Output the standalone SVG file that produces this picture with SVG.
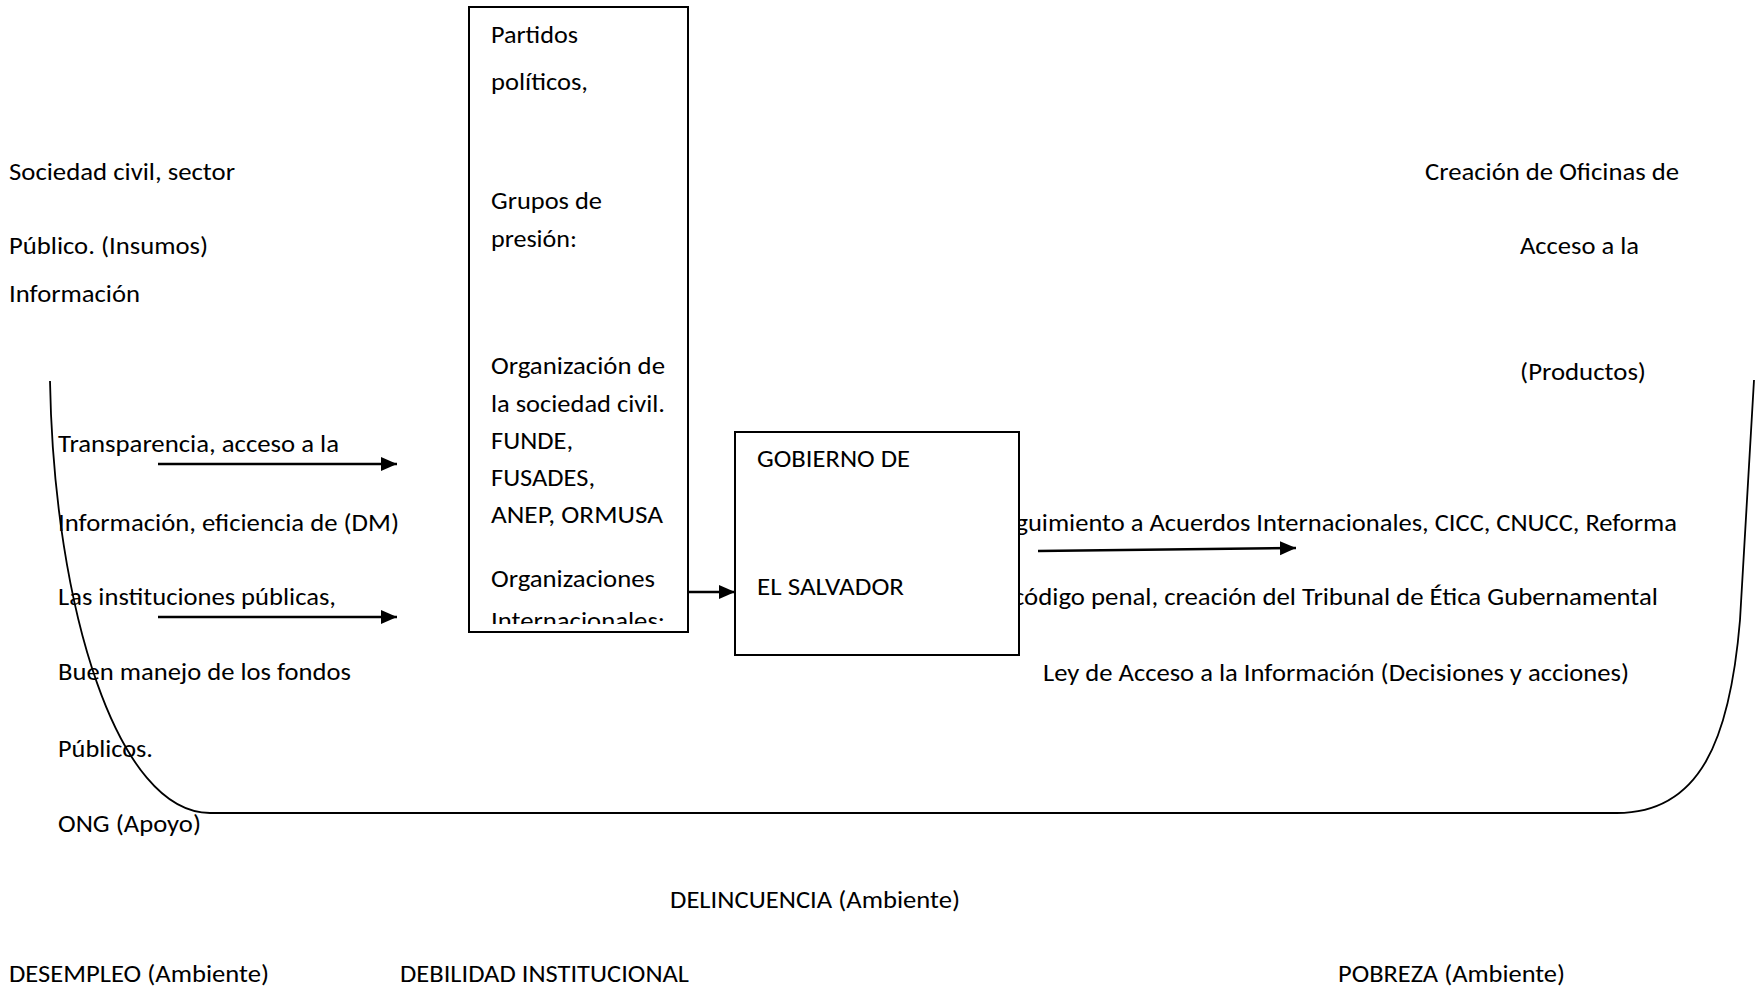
<svg xmlns="http://www.w3.org/2000/svg" width="1760" height="990" viewBox="0 0 1760 990">
<style>
text{font-family:Carlito,Lato,"Open Sans",sans-serif;font-size:25px;fill:#000}
.box{fill:#fff;stroke:#000;stroke-width:2}
.conn{stroke:#000;stroke-width:2.5;fill:none}
.curve{stroke:#000;stroke-width:1.8;fill:none}
</style>
<defs>
<marker id="ah" markerUnits="userSpaceOnUse" markerWidth="18" markerHeight="16" refX="16" refY="7" orient="auto">
<path d="M0,0 L16,7 L0,14 z" fill="#000"/>
</marker>
<clipPath id="clipBox"><rect x="470" y="8" width="217" height="616"/></clipPath>
</defs>

<g id="inputs">
<text x="9" y="180" textLength="226" lengthAdjust="spacingAndGlyphs">Sociedad civil, sector</text>
<text x="9" y="254" textLength="199" lengthAdjust="spacingAndGlyphs">Público. (Insumos)</text>
<text x="9" y="302" textLength="131" lengthAdjust="spacingAndGlyphs">Información</text>
<text x="58" y="452" textLength="281" lengthAdjust="spacingAndGlyphs">Transparencia, acceso a la</text>
<text x="58" y="531" textLength="341" lengthAdjust="spacingAndGlyphs">Información, eficiencia de (DM)</text>
<text x="58" y="605" textLength="278" lengthAdjust="spacingAndGlyphs">Las instituciones públicas,</text>
<text x="58" y="680" textLength="293" lengthAdjust="spacingAndGlyphs">Buen manejo de los fondos</text>
<text x="58" y="757" textLength="95" lengthAdjust="spacingAndGlyphs">Públicos.</text>
<text x="58" y="832" textLength="143" lengthAdjust="spacingAndGlyphs">ONG (Apoyo)</text>
</g>

<g id="outputs">
<text x="1425" y="180" textLength="254" lengthAdjust="spacingAndGlyphs">Creación de Oficinas de</text>
<text x="1520" y="254" textLength="119" lengthAdjust="spacingAndGlyphs">Acceso a la</text>
<text x="1520" y="380" textLength="126" lengthAdjust="spacingAndGlyphs">(Productos)</text>
<text x="990" y="531" textLength="687" lengthAdjust="spacingAndGlyphs">Seguimiento a Acuerdos Internacionales, CICC, CNUCC, Reforma</text>
<text x="1013" y="605" textLength="645" lengthAdjust="spacingAndGlyphs">código penal, creación del Tribunal de Ética Gubernamental</text>
<text x="1043" y="681" textLength="586" lengthAdjust="spacingAndGlyphs">Ley de Acceso a la Información (Decisiones y acciones)</text>
</g>

<g id="environment">
<text x="670" y="908" textLength="290" lengthAdjust="spacingAndGlyphs">DELINCUENCIA (Ambiente)</text>
<text x="9" y="982" textLength="260" lengthAdjust="spacingAndGlyphs">DESEMPLEO (Ambiente)</text>
<text x="400" y="982" textLength="289" lengthAdjust="spacingAndGlyphs">DEBILIDAD INSTITUCIONAL</text>
<text x="1338" y="982" textLength="227" lengthAdjust="spacingAndGlyphs">POBREZA (Ambiente)</text>
</g>

<g id="system-boundary">
<path class="curve" d="M50,381 C54,610 118,813 210,813 L1617,813 C1700,813 1730,740 1740,620 L1754,380"/>
</g>

<g id="actors">
<rect class="box" x="469" y="7" width="219" height="625"/>
<g clip-path="url(#clipBox)">
<text x="491" y="43" textLength="87" lengthAdjust="spacingAndGlyphs">Partidos</text>
<text x="491" y="90" textLength="97" lengthAdjust="spacingAndGlyphs">políticos,</text>
<text x="491" y="209" textLength="111" lengthAdjust="spacingAndGlyphs">Grupos de</text>
<text x="491" y="247" textLength="86" lengthAdjust="spacingAndGlyphs">presión:</text>
<text x="491" y="374" textLength="174" lengthAdjust="spacingAndGlyphs">Organización de</text>
<text x="491" y="412" textLength="174" lengthAdjust="spacingAndGlyphs">la sociedad civil.</text>
<text x="491" y="449" textLength="82" lengthAdjust="spacingAndGlyphs">FUNDE,</text>
<text x="491" y="486" textLength="104" lengthAdjust="spacingAndGlyphs">FUSADES,</text>
<text x="491" y="523" textLength="172" lengthAdjust="spacingAndGlyphs">ANEP, ORMUSA</text>
<text x="491" y="587" textLength="164" lengthAdjust="spacingAndGlyphs">Organizaciones</text>
<text x="491" y="629" textLength="174" lengthAdjust="spacingAndGlyphs">Internacionales:</text>
</g>
</g>

<g id="gobierno">
<rect class="box" x="735" y="432" width="284" height="223"/>
<text x="757" y="467" textLength="153" lengthAdjust="spacingAndGlyphs">GOBIERNO DE</text>
<text x="757" y="595" textLength="147" lengthAdjust="spacingAndGlyphs">EL SALVADOR</text>
</g>

<g id="connectors">
<line class="conn" x1="158" y1="464" x2="397" y2="464" marker-end="url(#ah)"/>
<line class="conn" x1="158" y1="617" x2="397" y2="617" marker-end="url(#ah)"/>
<line class="conn" x1="688" y1="592" x2="735" y2="592" marker-end="url(#ah)"/>
<line class="conn" x1="1038" y1="551" x2="1296" y2="548" marker-end="url(#ah)"/>
</g>
</svg>
